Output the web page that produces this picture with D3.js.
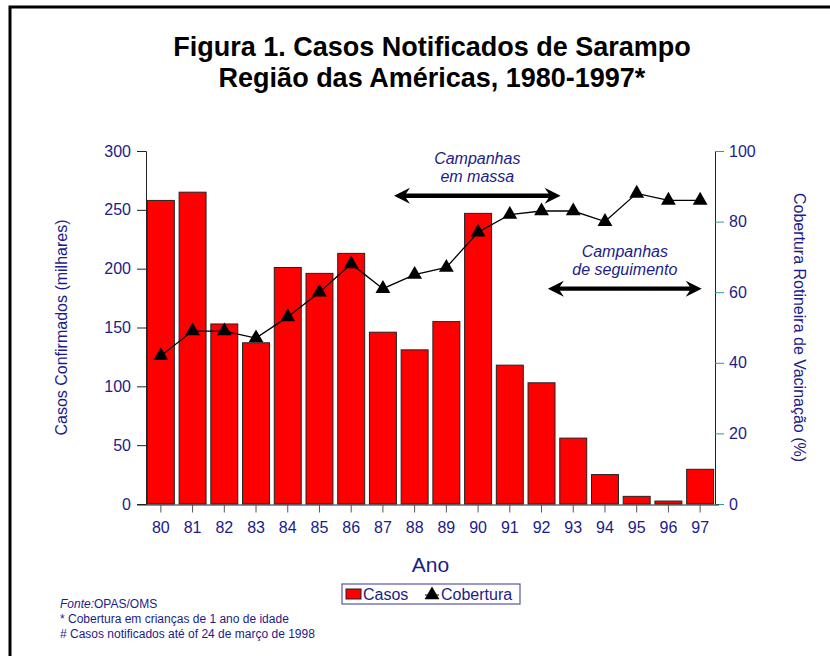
<!DOCTYPE html>
<html>
<head>
<meta charset="utf-8">
<script src="https://cdn.jsdelivr.net/npm/d3@7"></script>
<style>
  body { margin: 0; background: #fff; }
  text { font-family: Arial, "Liberation Sans", sans-serif; }
</style>
</head>
<body>
<div class="canva"></div>
<script>
// data
const anos = ["80","81","82","83","84","85","86","87","88","89","90","91","92","93","94","95","96","97"];
const casos = [258, 265, 153, 137, 201, 196, 213, 146, 131, 155, 247, 118, 103, 56, 25, 6.5, 2.5, 29.5];
const cobertura = [42, 49, 49, 47, 53, 60, 68, 61, 65, 67, 77, 82, 83, 83, 80, 88, 86, 86];
const leftTicks = [0, 50, 100, 150, 200, 250, 300];
const rightTicks = [0, 20, 40, 60, 80, 100];

// annotations: year span (as index) and height in casos units
const campanhas = [
  {lines: ["Campanhas", "em massa"], from: 7.35, to: 12.6, y: 262},
  {lines: ["Campanhas", "de seguimento"], from: 12.2, to: 17.05, y: 183}
];

const navy = "#1c1c8a";
const W = 830, H = 656;

const svg = d3.select(".canva").append("svg")
    .attr("width", W)
    .attr("height", H);

// frame (runs off the right / bottom edges)
svg.append("path")
    .attr("d", `M10,${H} L10,7 L${W},7`)
    .attr("fill", "none")
    .attr("stroke", "black")
    .attr("stroke-width", 3);

// title
const title = svg.append("text")
    .attr("x", 432)
    .attr("text-anchor", "middle")
    .attr("font-size", "27px")
    .attr("font-weight", "bold");
title.append("tspan").attr("x", 432).attr("y", 56).text("Figura 1. Casos Notificados de Sarampo");
title.append("tspan").attr("x", 432).attr("y", 87).text("Região das Américas, 1980-1997*");

const plotL = 146, plotR = 715, plotT = 151, plotB = 504;

const x = d3.scaleBand()
    .domain(anos)
    .range([plotL - 1, plotR + 1])
    .paddingInner(0.15)
    .paddingOuter(0.075);

// continuous version of x to place annotations between years
const xi = i => x(anos[0]) + x.bandwidth() / 2 + i * x.step();

const y = d3.scaleLinear().domain([0, 300]).range([plotB, plotT]);
const y2 = d3.scaleLinear().domain([0, 100]).range([plotB, plotT]);

// bars
svg.selectAll("rect.bar")
    .data(casos)
    .enter()
    .append("rect")
    .attr("class", "bar")
    .attr("x", (d, i) => x(anos[i]))
    .attr("y", d => y(d))
    .attr("width", x.bandwidth())
    .attr("height", d => plotB - y(d))
    .attr("fill", "#ff0000")
    .attr("stroke", "#222")
    .attr("stroke-width", 1);

// left axis
const yAxis = svg.append("g")
    .attr("transform", `translate(${plotL},0)`)
    .call(d3.axisLeft(y).tickValues(leftTicks).tickSize(9).tickPadding(6));
yAxis.select(".domain").attr("stroke", "#222");
yAxis.selectAll(".tick line").attr("stroke", "#222");
yAxis.selectAll("text").attr("fill", navy).attr("font-size", "16px")
    .attr("font-family", "Arial, 'Liberation Sans', sans-serif");

// right axis
const y2Axis = svg.append("g")
    .attr("transform", `translate(${plotR},0)`)
    .call(d3.axisRight(y2).tickValues(rightTicks).tickSize(9).tickPadding(5));
y2Axis.select(".domain").attr("stroke", "#222");
y2Axis.selectAll(".tick line").attr("stroke", "#2a9a9a");
y2Axis.selectAll("text").attr("fill", navy).attr("font-size", "16px")
    .attr("font-family", "Arial, 'Liberation Sans', sans-serif");

// bottom axis
const xAxis = svg.append("g")
    .attr("transform", `translate(0,${plotB + 0.5})`)
    .call(d3.axisBottom(x).tickSize(8).tickPadding(9).tickSizeOuter(0));
xAxis.select(".domain").attr("stroke", "#222")
    .attr("d", `M${plotL - 9},0.5H${plotR + 4}`);
xAxis.selectAll(".tick line").attr("stroke", "#555");
xAxis.selectAll("text").attr("fill", navy).attr("font-size", "16px")
    .attr("font-family", "Arial, 'Liberation Sans', sans-serif");

// coverage line
const line = d3.line()
    .x((d, i) => x(anos[i]) + x.bandwidth() / 2)
    .y(d => y2(d));

svg.append("path")
    .datum(cobertura)
    .attr("d", line)
    .attr("fill", "none")
    .attr("stroke", "black")
    .attr("stroke-width", 1.3);

const tri = d3.symbol().type(d3.symbolTriangle).size(95);
svg.selectAll("path.tri")
    .data(cobertura)
    .enter()
    .append("path")
    .attr("class", "tri")
    .attr("d", tri)
    .attr("transform", (d, i) => `translate(${x(anos[i]) + x.bandwidth() / 2},${y2(d)})`)
    .attr("fill", "black");

// campaign arrows
function arrow(g, x1, x2, yy) {
    const hl = 16, hw = 8, t = 2.2;
    g.append("path")
        .attr("d", `M${x1},${yy} L${x1 + hl},${yy - hw} L${x1 + hl - 4},${yy - t} L${x2 - hl + 4},${yy - t}
                    L${x2 - hl},${yy - hw} L${x2},${yy} L${x2 - hl},${yy + hw} L${x2 - hl + 4},${yy + t}
                    L${x1 + hl - 4},${yy + t} L${x1 + hl},${yy + hw} Z`)
        .attr("fill", "black");
}

campanhas.forEach(c => {
    const x1 = xi(c.from), x2 = xi(c.to), yy = y(c.y);
    arrow(svg, x1, x2, yy);
    const cx = (x1 + x2) / 2;
    const t = svg.append("text")
        .attr("text-anchor", "middle")
        .attr("font-size", "16px")
        .attr("font-style", "italic")
        .attr("fill", navy);
    c.lines.forEach((l, k) => {
        t.append("tspan").attr("x", cx).attr("y", yy - 32 + k * 18).text(l);
    });
});

// axis titles
svg.append("text")
    .attr("transform", `translate(67,${(plotT + plotB) / 2}) rotate(-90)`)
    .attr("text-anchor", "middle")
    .attr("font-size", "16px")
    .attr("fill", navy)
    .text("Casos Confirmados (milhares)");

svg.append("text")
    .attr("transform", `translate(794,${(plotT + plotB) / 2}) rotate(90)`)
    .attr("text-anchor", "middle")
    .attr("font-size", "16px")
    .attr("fill", navy)
    .text("Cobertura Rotineira de Vacinação (%)");

svg.append("text")
    .attr("x", (plotL + plotR) / 2)
    .attr("y", 572)
    .attr("text-anchor", "middle")
    .attr("font-size", "21px")
    .attr("fill", navy)
    .text("Ano");

// legend
const leg = svg.append("g").attr("transform", "translate(342,584)");
leg.append("rect")
    .attr("width", 178).attr("height", 20)
    .attr("fill", "white").attr("stroke", "#5555aa").attr("stroke-width", 1.2);
leg.append("rect")
    .attr("x", 4).attr("y", 5).attr("width", 15).attr("height", 10)
    .attr("fill", "#ff0000").attr("stroke", "#222");
leg.append("text")
    .attr("x", 21).attr("y", 16).attr("font-size", "16px").attr("fill", navy).text("Casos");
leg.append("path")
    .attr("d", "M83,11H97").attr("stroke", "black");
leg.append("path")
    .attr("d", tri)
    .attr("transform", "translate(90,11)")
    .attr("fill", "black");
leg.append("text")
    .attr("x", 99).attr("y", 16).attr("font-size", "16px").attr("fill", navy).text("Cobertura");

// footnotes
const notes = svg.append("g").attr("font-size", "12px").attr("fill", navy);
const fonte = notes.append("text").attr("x", 60).attr("y", 608);
fonte.append("tspan").attr("font-style", "italic").text("Fonte:");
fonte.append("tspan").text("OPAS/OMS");
notes.append("text").attr("x", 60).attr("y", 623).text("* Cobertura em crianças de 1 ano de idade");
notes.append("text").attr("x", 60).attr("y", 638).text("# Casos notificados até of 24 de março de 1998");
</script>
</body>
</html>
